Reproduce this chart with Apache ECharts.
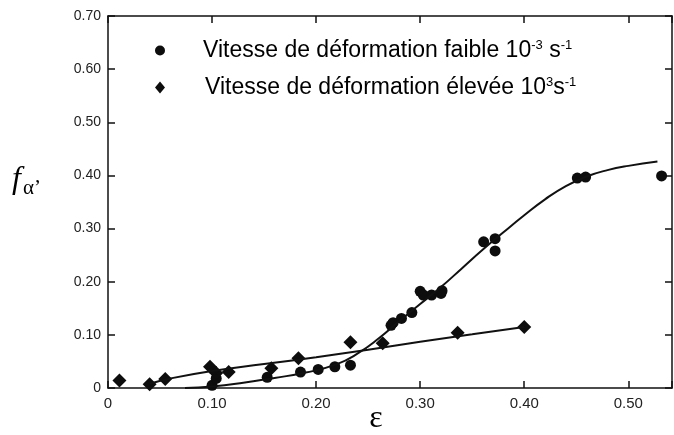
<!DOCTYPE html>
<html>
<head>
<meta charset="utf-8">
<script src="https://cdn.jsdelivr.net/npm/echarts@6/dist/echarts.min.js"></script>
<style>
  html, body { margin: 0; padding: 0; background: #fff; }
  #chart { width: 674px; height: 435px; }
</style>
</head>
<body>
<div id="chart"></div>
<script>
// points mesurés - vitesse faible (cercles)
const lowX = [0.100, 0.104, 0.153, 0.185, 0.202, 0.218, 0.233, 0.272, 0.274, 0.282, 0.292,
  0.300, 0.303, 0.311, 0.320, 0.321, 0.361, 0.372, 0.372, 0.451, 0.459, 0.532];
const lowY = [0.005, 0.018, 0.020, 0.030, 0.035, 0.040, 0.043, 0.118, 0.123, 0.131, 0.142,
  0.182, 0.175, 0.175, 0.178, 0.183, 0.275, 0.281, 0.258, 0.395, 0.397, 0.399];

// points mesurés - vitesse élevée (losanges)
const highX = [0.011, 0.040, 0.055, 0.098, 0.104, 0.116, 0.157, 0.183, 0.233, 0.264, 0.336, 0.400];
const highY = [0.014, 0.007, 0.017, 0.040, 0.028, 0.030, 0.037, 0.056, 0.086, 0.084, 0.104, 0.115];

// courbes tracées à la main sur la figure
const lowFitX = [0.074, 0.10, 0.13, 0.16, 0.19, 0.22, 0.24, 0.26, 0.28, 0.30, 0.32, 0.34,
  0.36, 0.38, 0.40, 0.42, 0.44, 0.46, 0.48, 0.50, 0.528];
const lowFitY = [0.000, 0.003, 0.010, 0.019, 0.029, 0.045, 0.065, 0.093, 0.126, 0.158, 0.190,
  0.225, 0.260, 0.293, 0.325, 0.355, 0.380, 0.398, 0.410, 0.418, 0.426];
const highFitX = [0.040, 0.060, 0.10, 0.15, 0.20, 0.25, 0.30, 0.35, 0.40];
const highFitY = [0.008, 0.018, 0.032, 0.045, 0.058, 0.072, 0.087, 0.101, 0.115];

const yTicks = [0, 0.1, 0.2, 0.3, 0.4, 0.5, 0.6, 0.7];
const xTicks = [0, 0.1, 0.2, 0.3, 0.4, 0.5];

const zip = (xs, ys) => xs.map((x, i) => [x, ys[i]]);
const tickLabel = v => (v === 0 ? '0' : v.toFixed(2));

const chart = echarts.init(document.getElementById('chart'));

const axisLine = { show: true, onZero: false, lineStyle: { color: '#111', width: 1.5 } };
const tick = { show: true, inside: true, length: 7, lineStyle: { color: '#111', width: 1.5 } };
const label = { color: '#222', fontFamily: 'Liberation Sans, Arial' };
const serif = 'Liberation Serif, Times New Roman';

const sup = { fontSize: 13, color: '#000', verticalAlign: 'bottom', padding: [0, 0, 10, 0] };
const legendText = {
  fontSize: 23,
  color: '#000',
  fontFamily: 'Liberation Sans, Arial',
  rich: { sup: sup }
};

chart.setOption({
  animation: false,
  backgroundColor: '#fff',
  grid: { left: 108, right: 2, top: 16, bottom: 47, outerBoundsMode: 'none' },
  legend: [
    {
      left: 155, top: 39, padding: 0, itemWidth: 10, itemHeight: 10,
      data: [{ name: 'faible', icon: 'circle' }],
      formatter: () => 'Vitesse de déformation faible 10{sup|-3} s{sup|-1}',
      textStyle: Object.assign({ padding: [0, 0, 0, 33] }, legendText)
    },
    {
      left: 155, top: 76, padding: 0, itemWidth: 10, itemHeight: 12,
      data: [{ name: 'elevee', icon: 'diamond' }],
      formatter: () => 'Vitesse de déformation élevée 10{sup|3}s{sup|-1}',
      textStyle: Object.assign({ padding: [0, 0, 0, 35] }, legendText)
    }
  ],
  xAxis: [
    {
      type: 'value', min: 0, max: 0.542, interval: 0.1,
      axisLine: axisLine, axisTick: tick, splitLine: { show: false },
      axisLabel: Object.assign({ fontSize: 15, margin: 8, formatter: v => (xTicks.includes(+v.toFixed(2)) ? tickLabel(v) : '') }, label)
    },
    {
      type: 'value', position: 'top', min: 0, max: 0.542, interval: 0.1,
      axisLine: axisLine, axisTick: tick, axisLabel: { show: false }, splitLine: { show: false }
    }
  ],
  yAxis: [
    {
      type: 'value', min: 0, max: 0.7, interval: 0.1,
      axisLine: axisLine, axisTick: tick, splitLine: { show: false },
      axisLabel: Object.assign({ fontSize: 14, margin: 7, formatter: v => (yTicks.includes(+v.toFixed(2)) ? tickLabel(v) : '') }, label)
    },
    {
      type: 'value', position: 'right', min: 0, max: 0.7, interval: 0.1,
      axisLine: axisLine, axisTick: tick, axisLabel: { show: false }, splitLine: { show: false }
    }
  ],
  graphic: [
    {
      type: 'text', left: 12, top: 164,
      style: {
        text: '{f|f}{a|α\u2019}',
        rich: {
          f: { fontSize: 32, fontStyle: 'italic', fontFamily: serif, fill: '#000' },
          a: { fontSize: 21, fontFamily: serif, fill: '#000', verticalAlign: 'bottom', padding: [16, 0, 0, 2] }
        }
      }
    },
    {
      // nom de l'axe x
      type: 'text', x: 376, y: 419,
      style: { text: 'ε', fontSize: 32, fontFamily: serif, fill: '#000', align: 'center', verticalAlign: 'middle' }
    }
  ],
  series: [
    {
      name: 'lowFit', type: 'line', smooth: true, showSymbol: false, silent: true,
      lineStyle: { color: '#111', width: 2 }, data: zip(lowFitX, lowFitY)
    },
    {
      name: 'highFit', type: 'line', smooth: true, showSymbol: false, silent: true,
      lineStyle: { color: '#111', width: 2 }, data: zip(highFitX, highFitY)
    },
    {
      name: 'faible', type: 'scatter', symbol: 'circle', symbolSize: 11,
      itemStyle: { color: '#0d0d0d', opacity: 1 }, data: zip(lowX, lowY)
    },
    {
      name: 'elevee', type: 'scatter', symbol: 'diamond', symbolSize: 14,
      itemStyle: { color: '#0d0d0d', opacity: 1 }, data: zip(highX, highY)
    }
  ]
});
</script>
</body>
</html>
